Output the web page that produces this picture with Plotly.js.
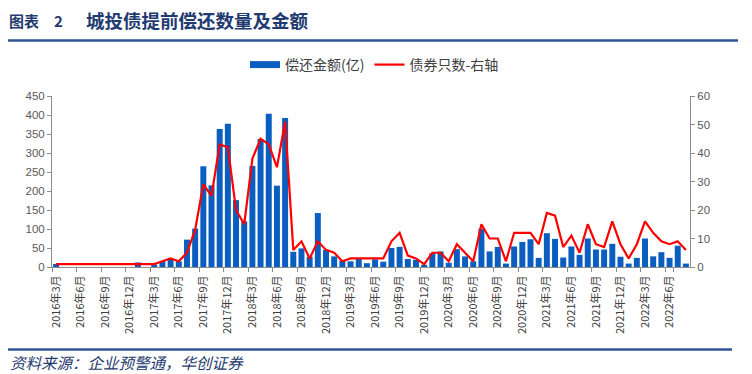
<!DOCTYPE html>
<html><head><meta charset="utf-8">
<script src="https://cdn.plot.ly/plotly-3.0.1.min.js"></script>
<style>html,body{margin:0;padding:0;background:#fff}#chart{width:752px;height:374px}</style>
</head><body><div id="chart"></div>
<script>
const months = [
 '2016年3月','2016年4月','2016年5月','2016年6月','2016年7月','2016年8月','2016年9月','2016年10月','2016年11月','2016年12月',
 '2017年1月','2017年2月','2017年3月','2017年4月','2017年5月','2017年6月','2017年7月','2017年8月','2017年9月','2017年10月','2017年11月','2017年12月',
 '2018年1月','2018年2月','2018年3月','2018年4月','2018年5月','2018年6月','2018年7月','2018年8月','2018年9月','2018年10月','2018年11月','2018年12月',
 '2019年1月','2019年2月','2019年3月','2019年4月','2019年5月','2019年6月','2019年7月','2019年8月','2019年9月','2019年10月','2019年11月','2019年12月',
 '2020年1月','2020年2月','2020年3月','2020年4月','2020年5月','2020年6月','2020年7月','2020年8月','2020年9月','2020年10月','2020年11月','2020年12月',
 '2021年1月','2021年2月','2021年3月','2021年4月','2021年5月','2021年6月','2021年7月','2021年8月','2021年9月','2021年10月','2021年11月','2021年12月',
 '2022年1月','2022年2月','2022年3月','2022年4月','2022年5月','2022年6月','2022年7月','2022年8月'
];
const amount = [
 8,0,0,0,0,0,0,0,0,0,
 12,0,6,15,21,15,72,101,265,215,
 363,377,176,120,266,337,403,214,392,40,
 49,27,142,45,28,17,15,21,10,20,
 14,50,53,21,19,6,36,41,11,47,
 28,15,101,41,53,9,54,66,73,24,
 89,74,25,54,32,75,46,46,61,27,
 9,24,75,28,39,24,56,9
];
const count = [
 1,1,1,1,1,1,1,1,1,1,
 1,1,1,2,3,2,5,13,29,25,
 43,42,20,15,38,45,43,35,51,6,
 9,3,9,6,5,2,3,3,3,3,
 3,9,12,4,3,1,5,5,2,8,
 5,2,15,10,10,2,12,12,12,8,
 19,18,7,11,5,15,8,7,16,8,
 3,8,16,12,9,8,9,6
];
const tickLabels = [
 '2016年3月','2016年6月','2016年9月','2016年12月',
 '2017年3月','2017年6月','2017年9月','2017年12月',
 '2018年3月','2018年6月','2018年9月','2018年12月',
 '2019年3月','2019年6月','2019年9月','2019年12月',
 '2020年3月','2020年6月','2020年9月','2020年12月',
 '2021年3月','2021年6月','2021年9月','2021年12月',
 '2022年3月','2022年6月'
];
const seriesNames = ['偿还金额(亿)', '债券只数-右轴'];
const titleLabel = '图表';
const titleNo = '2';
const titleText = '城投债提前偿还数量及金额';
const sourceText = '资料来源：企业预警通，华创证券';

const L = 52, R = 690, T = 96, B = 267;
const px = x => (x - L) / (R - L);
const py = y => (B - y) / (B - T);
const barBlue = '#0a5ec0', navy = '#1f3b70', rule = '#2f5597', axisGray = '#8c8c8c';
const cjk = '"Noto Sans CJK SC", "Noto Sans", sans-serif';

const data = [
  {type: 'scatter', mode: 'lines', x: [null], y: [null], name: seriesNames[0],
   line: {color: barBlue, width: 7}, hoverinfo: 'skip', showlegend: true},
  {type: 'bar', x: months, y: amount, name: seriesNames[0], marker: {color: barBlue},
   showlegend: false, yaxis: 'y'},
  {type: 'scatter', mode: 'lines', x: months, y: count, name: seriesNames[1], yaxis: 'y2',
   line: {color: '#ff0000', width: 2.2}}
];

const layout = {
  width: 752, height: 374,
  margin: {l: L, r: 752 - R, t: T, b: 374 - B, pad: 0},
  paper_bgcolor: '#fff', plot_bgcolor: '#fff',
  bargap: 0.27,
  showlegend: true,
  legend: {orientation: 'h', x: px(245), y: py(65), xanchor: 'left', yanchor: 'middle',
           font: {family: cjk, size: 14, color: '#404040'}, bgcolor: 'rgba(0,0,0,0)', traceorder: 'normal'},
  xaxis: {type: 'category', categoryorder: 'array', categoryarray: months,
          range: [-0.5, months.length - 0.5],
          tickmode: 'array', tickvals: tickLabels, ticktext: tickLabels,
          tickson: 'boundaries', ticks: 'outside', ticklen: 4, tickcolor: axisGray,
          tickangle: -90, showline: true, linecolor: axisGray, linewidth: 1,
          showgrid: false, zeroline: false, ticklabelstandoff: 3,
          tickfont: {family: cjk, size: 11, color: '#404040'}},
  yaxis: {range: [0, 450], dtick: 50, tick0: 0, ticks: 'outside', ticklen: 4, tickcolor: axisGray,
          showline: true, linecolor: axisGray, showgrid: false, zeroline: false,
          tickfont: {family: '"Liberation Sans", Arial, sans-serif', size: 11.5, color: '#595959'}},
  yaxis2: {range: [0, 60], dtick: 10, tick0: 0, overlaying: 'y', side: 'right',
           ticks: 'outside', ticklen: 4, tickcolor: axisGray,
           showline: true, linecolor: axisGray, showgrid: false, zeroline: false,
           tickfont: {family: '"Liberation Sans", Arial, sans-serif', size: 11.5, color: '#595959'}},
  shapes: [
    {type: 'line', xref: 'paper', yref: 'paper', x0: px(8), x1: px(738), y0: py(40.5), y1: py(40.5),
     line: {color: rule, width: 2.5}},
    {type: 'line', xref: 'paper', yref: 'paper', x0: px(8), x1: px(732), y0: py(349.5), y1: py(349.5),
     line: {color: rule, width: 2.5}}
  ],
  annotations: [
    {text: '<b>' + titleLabel + '</b>', xref: 'paper', yref: 'paper', x: px(7), y: py(20), xanchor: 'left', yanchor: 'middle',
     showarrow: false, font: {family: cjk, size: 15, color: navy}},
    {text: '<b>' + titleNo + '</b>', xref: 'paper', yref: 'paper', x: px(52), y: py(20), xanchor: 'left', yanchor: 'middle',
     showarrow: false, font: {family: cjk, size: 15, color: navy}},
    {text: '<b>' + titleText + '</b>', xref: 'paper', yref: 'paper', x: px(84), y: py(20), xanchor: 'left', yanchor: 'middle',
     showarrow: false, font: {family: cjk, size: 18.5, color: navy}},
    {text: '<i>' + sourceText + '</i>', xref: 'paper', yref: 'paper', x: px(8), y: py(362), xanchor: 'left', yanchor: 'middle',
     showarrow: false, font: {family: cjk, size: 15.5, color: navy}}
  ]
};

Plotly.newPlot('chart', data, layout, {displayModeBar: false, staticPlot: true});
</script></body></html>
